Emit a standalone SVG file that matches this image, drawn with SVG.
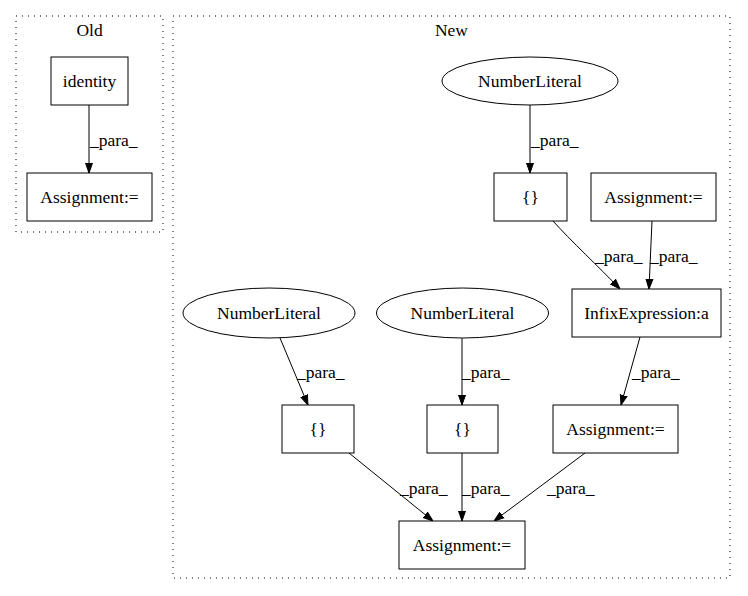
<svg xmlns="http://www.w3.org/2000/svg" width="748" height="596" viewBox="0 0 748 596" font-family="'Liberation Serif', 'Times New Roman', serif" font-size="17.5">
<defs>
<marker id="arr" markerWidth="10" markerHeight="10" refX="10" refY="5" orient="auto" markerUnits="userSpaceOnUse">
<path d="M0,1.5 L10,5 L0,8.5 Z" fill="#000" stroke="#000" stroke-width="1"/>
</marker>
</defs>
<style>
text{font-family:'Liberation Serif','Times New Roman',serif;font-size:17.5px;fill:#000}
.c{text-anchor:middle}
.n rect,.n ellipse{fill:#fff;stroke:#000;stroke-width:1}
.cl{fill:none;stroke:#000;stroke-width:1;stroke-dasharray:1,5}
.e path{fill:none;stroke:#000;stroke-width:1;marker-end:url(#arr)}
</style>
<rect width="748" height="596" fill="#fff"/>
<g id="cluster_old">
<rect class="cl" x="16" y="16" width="147" height="216"/>
<text class="c" x="89.5" y="36">Old</text>
</g>
<g id="cluster_new">
<rect class="cl" x="173" y="16" width="557" height="562"/>
<text class="c" x="451.5" y="36">New</text>
</g>
<g id="edges" class="e">
<path d="M89,105 L89,173"/>
<path d="M530,105 L530,173"/>
<path d="M553,221 C570,240 600,268 620,289"/>
<path d="M652,221 L649,289"/>
<path d="M640,337 L621,405"/>
<path d="M280,338 L308,405"/>
<path d="M462,338 L462,405"/>
<path d="M349,453 L433,521"/>
<path d="M462,453 L462,521"/>
<path d="M585,453 L494,521"/>
</g>
<g id="edge_labels">
<text x="90" y="146">_para_</text>
<text x="531" y="146">_para_</text>
<text x="595" y="262">_para_</text>
<text x="650" y="262">_para_</text>
<text x="632" y="378">_para_</text>
<text x="297" y="378">_para_</text>
<text x="462" y="378">_para_</text>
<text x="400" y="494">_para_</text>
<text x="462" y="494">_para_</text>
<text x="547" y="494">_para_</text>
</g>
<g id="identity" class="n">
<rect x="51" y="57" width="77" height="48"/>
<text class="c" x="89.5" y="87">identity</text>
</g>
<g id="assign_old" class="n">
<rect x="27" y="173" width="125" height="48"/>
<text class="c" x="89.5" y="203">Assignment:=</text>
</g>
<g id="numlit_top" class="n">
<ellipse cx="530" cy="81" rx="88" ry="24"/>
<text class="c" x="530" y="87">NumberLiteral</text>
</g>
<g id="braces_top" class="n">
<rect x="494" y="173" width="73" height="48"/>
<text class="c" x="530.5" y="203">{}</text>
</g>
<g id="assign_top" class="n">
<rect x="591" y="173" width="125" height="48"/>
<text class="c" x="653.5" y="203">Assignment:=</text>
</g>
<g id="infix" class="n">
<rect x="572" y="289" width="149" height="48"/>
<text class="c" x="646.5" y="319">InfixExpression:a</text>
</g>
<g id="numlit_left" class="n">
<ellipse cx="269" cy="313" rx="86" ry="25"/>
<text class="c" x="269" y="319">NumberLiteral</text>
</g>
<g id="numlit_mid" class="n">
<ellipse cx="462.5" cy="313" rx="86" ry="25"/>
<text class="c" x="462.5" y="319">NumberLiteral</text>
</g>
<g id="braces_left" class="n">
<rect x="282" y="405" width="72" height="48"/>
<text class="c" x="318" y="435">{}</text>
</g>
<g id="braces_mid" class="n">
<rect x="427" y="405" width="71" height="48"/>
<text class="c" x="462.5" y="435">{}</text>
</g>
<g id="assign_mid" class="n">
<rect x="553" y="405" width="125" height="48"/>
<text class="c" x="615.5" y="435">Assignment:=</text>
</g>
<g id="assign_bottom" class="n">
<rect x="399" y="521" width="126" height="48"/>
<text class="c" x="462" y="551">Assignment:=</text>
</g>
</svg>
